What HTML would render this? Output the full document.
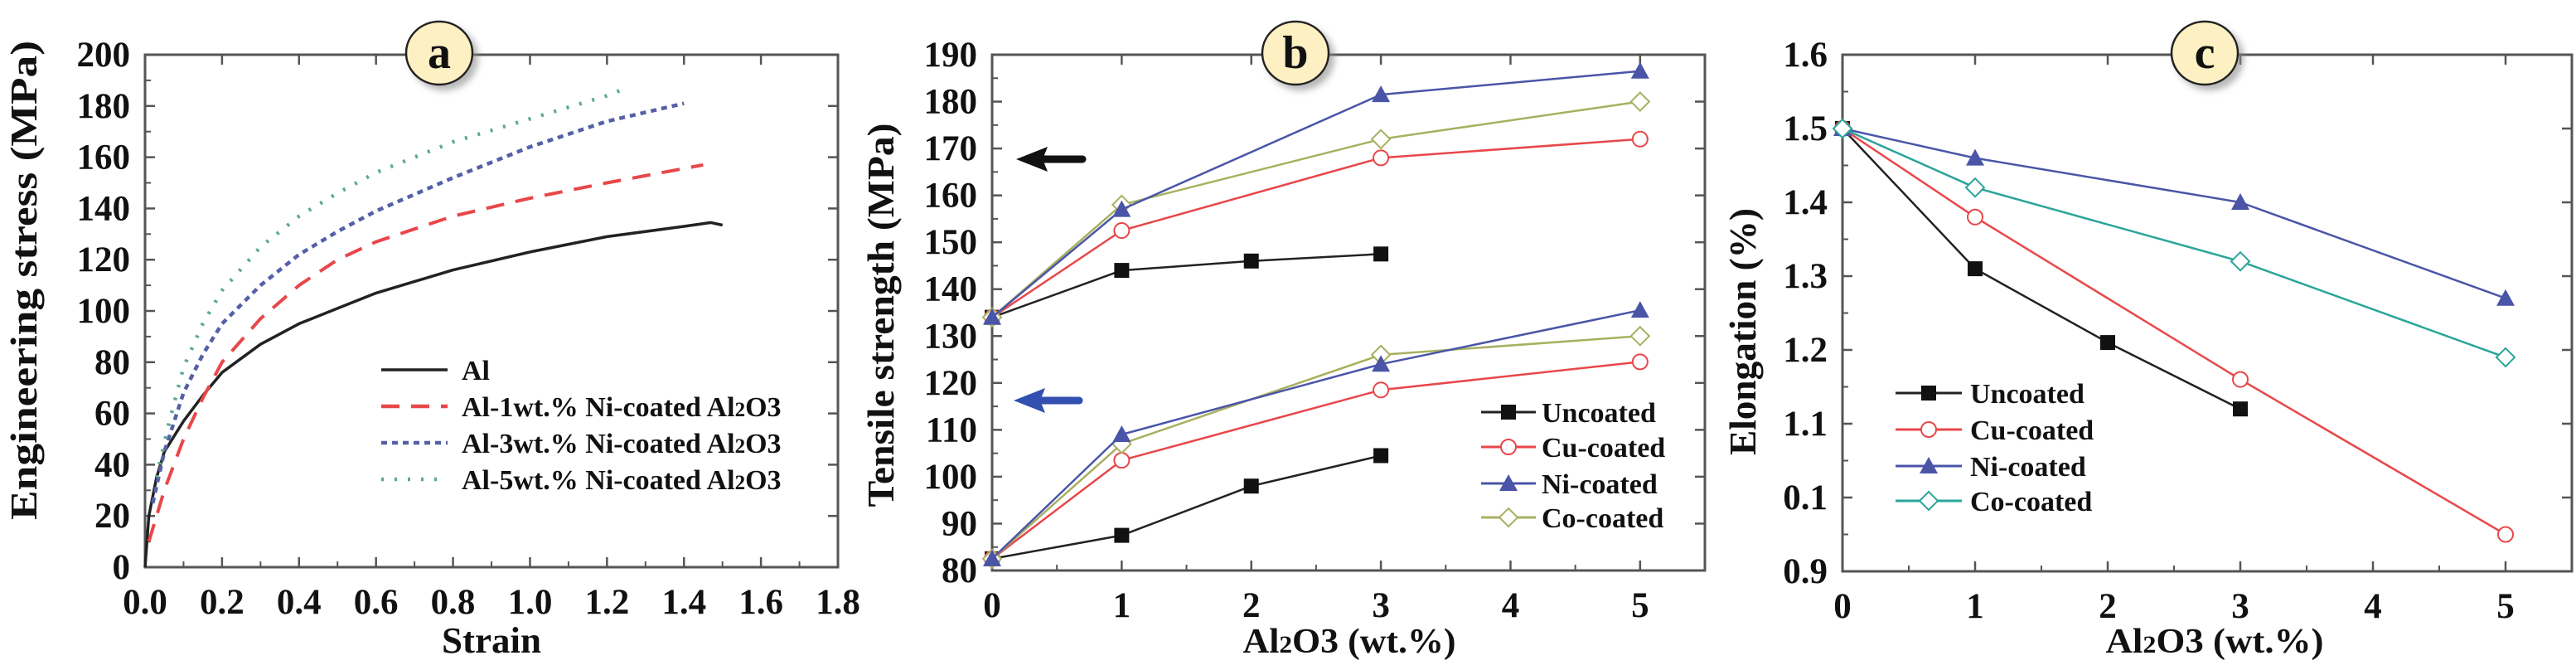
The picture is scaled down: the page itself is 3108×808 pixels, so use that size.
<!DOCTYPE html>
<html><head><meta charset="utf-8">
<style>
html,body{margin:0;padding:0;background:#fff;}
svg{display:block;font-family:"Liberation Serif",serif;font-weight:bold;}
</style></head>
<body>
<svg id="fig" width="3108" height="808" viewBox="0 0 3108 808" xmlns="http://www.w3.org/2000/svg">
<defs>
<filter id="sh" x="-30%" y="-30%" width="160%" height="160%"><feDropShadow dx="6" dy="6" stdDeviation="4" flood-color="#888" flood-opacity="0.6"/></filter>
</defs>
</svg>
<script>
// ---- Panel a data ----
const aSeriesNames = ["Al","Al-1wt.% Ni-coated Al2O3","Al-3wt.% Ni-coated Al2O3","Al-5wt.% Ni-coated Al2O3"];
const aAlStrain = [0,0.01,0.03,0.05,0.1,0.15,0.2,0.3,0.4,0.5,0.6,0.8,1.0,1.2,1.4,1.47,1.5];
const aAlStress = [0,20,35,45,57,67,76,87,95,101,107,116,123,129,133,134.5,133.5];
const aNi1Strain = [0.01,0.05,0.1,0.15,0.2,0.3,0.4,0.5,0.6,0.8,1.0,1.2,1.45];
const aNi1Stress = [10,30,50,66,80,97,110,120,127,137,144,150,157];
const aNi3Strain = [0.02,0.05,0.1,0.15,0.2,0.3,0.4,0.5,0.6,0.8,1.0,1.2,1.4];
const aNi3Stress = [25,45,68,83,95,110,122,131,139,152,164,174,181];
const aNi5Strain = [0.03,0.06,0.1,0.15,0.2,0.3,0.4,0.5,0.6,0.8,1.0,1.2,1.25];
const aNi5Stress = [35,55,78,95,108,125,137,146,154,166,175,184,187];
const aXTicks = ["0.0","0.2","0.4","0.6","0.8","1.0","1.2","1.4","1.6","1.8"];
const aYTicks = ["0","20","40","60","80","100","120","140","160","180","200"];
// ---- Panel b data ----
const bX4 = [0,1,2,3];
const bX = [0,1,3,5];
const bUncUpper = [134,144,146,147.5];
const bCuUpper = [134,152.5,168,172];
const bNiUpper = [134,157,181.5,186.5];
const bCoUpper = [134,158,172,180];
const bUncLower = [82.5,87.5,98,104.5];
const bCuLower = [82.5,103.5,118.5,124.5];
const bNiLower = [82.5,109,124,135.5];
const bCoLower = [82.5,107,126,130];
const bYTicks = ["80","90","100","110","120","130","140","150","160","170","180","190"];
const xTicksInt = ["0","1","2","3","4","5"];
// ---- Panel c data ----
const cX4 = [0,1,2,3];
const cX = [0,1,3,5];
const cUnc = [1.5,1.31,1.21,1.12];
const cCu = [1.5,1.38,1.16,0.95];
const cNi = [1.5,1.46,1.40,1.27];
const cCo = [1.5,1.42,1.32,1.19];
const cYTicks = ["0.9","0.1","1.1","1.2","1.3","1.4","1.5","1.6"];
const legendNames = ["Uncoated","Cu-coated","Ni-coated","Co-coated"];

const svg = document.getElementById('fig');
const NS = "http://www.w3.org/2000/svg";
const TF = 43;
function mk(tag, attrs, parent){const e=document.createElementNS(NS,tag);for(const k in attrs)e.setAttribute(k,attrs[k]);(parent||svg).appendChild(e);return e;}
function txt(s,x,y,size,anchor,parent){const t=mk('text',{x:x,y:y,'font-size':size,'text-anchor':anchor||'middle',fill:'#111'},parent);t.textContent=s;return t;}

function panel(name,L,R,T,B,xmin,xmax,ymin,ymax){
  const g=mk('g',{});
  
  
  return {g,L,R,T,B,sx:v=>L+(v-xmin)/(xmax-xmin)*(R-L),sy:v=>B-(v-ymin)/(ymax-ymin)*(B-T)};
}
function frame(p,xvals,xlabels,yvals,ylabels,xminor,yminor){
  const ax=mk('rect',{x:p.L,y:p.T,width:p.R-p.L,height:p.B-p.T,fill:'none',stroke:'#555','stroke-width':3},p.g);
  
  
  xvals.forEach((v,i)=>{const x=p.sx(v);mk('line',{x1:x,x2:x,y1:p.B,y2:p.B-12,stroke:'#555','stroke-width':2.5},p.g);mk('line',{x1:x,x2:x,y1:p.T,y2:p.T+12,stroke:'#555','stroke-width':2.5},p.g);
    const t=txt(xlabels[i],x,p.B+56,TF,'middle',p.g);});
  xminor.forEach(v=>{const x=p.sx(v);mk('line',{x1:x,x2:x,y1:p.B,y2:p.B-7,stroke:'#555','stroke-width':2},p.g);});
  yvals.forEach((v,i)=>{const y=p.sy(v);mk('line',{x1:p.L,x2:p.L+12,y1:y,y2:y,stroke:'#555','stroke-width':2.5},p.g);mk('line',{x1:p.R,x2:p.R-12,y1:y,y2:y,stroke:'#555','stroke-width':2.5},p.g);
    const t=txt(ylabels[i],p.L-18,y+14,TF,'end',p.g);});
  yminor.forEach(v=>{const y=p.sy(v);mk('line',{x1:p.L,x2:p.L+7,y1:y,y2:y,stroke:'#555','stroke-width':2},p.g);});
}
function badge(letter,cx,cy){
  const e=mk('ellipse',{cx:cx,cy:cy,rx:40,ry:38,fill:'#fdf0c2',stroke:'#222','stroke-width':2.5,filter:'url(#sh)'});
  
  
  const t=txt(letter,cx,cy+18,56,'middle');
  
  
}
function poly(p,xs,ys,color,w,dash,name){
  const d=xs.map((x,i)=>(i?'L':'M')+p.sx(x).toFixed(1)+','+p.sy(ys[i]).toFixed(1)).join(' ');
  const a={d:d,fill:'none',stroke:color,'stroke-width':w,'stroke-linejoin':'round'};
  if(dash)a['stroke-dasharray']=dash;
  const e=mk('path',a,p.g);
  
  
}
function marker(g,type,x,y,color){
  let e;
  if(type==='sq')e=mk('rect',{x:x-9,y:y-9,width:18,height:18,fill:'#111'},g);
  else if(type==='ci')e=mk('circle',{cx:x,cy:y,r:9,fill:'#fff',stroke:color,'stroke-width':2},g);
  else if(type==='tr')e=mk('polygon',{points:`${x},${y-11} ${x+11},${y+9} ${x-11},${y+9}`,fill:color},g);
  else e=mk('polygon',{points:`${x},${y-11} ${x+11},${y} ${x},${y+11} ${x-11},${y}`,fill:'#fff',stroke:color,'stroke-width':2},g);
  
  
}
function series(p,xs,ys,color,type,name){
  poly(p,xs,ys,color,2.5,null,name);
  xs.forEach((x,i)=>marker(p.g,type,p.sx(x),p.sy(ys[i]),color));
}
function legendRow(g,x1,x2,tx,y,color,type,label,dash,w){
  const a={x1:x1,x2:x2,y1:y,y2:y,stroke:color,'stroke-width':w||3};
  if(dash)a['stroke-dasharray']=dash;
  const l=mk('line',a,g);
  
  
  if(type)marker(g,type,(x1+x2)/2,y,color);
  const t=txt(label,tx,y+12,34,'start',g);
  
  
}
function richLegend(g,tx,y,label){
  const t=mk('text',{x:tx,y:y+12,'font-size':34,fill:'#111'},g);
  
  
  const parts=label.split('Al2O3');
  t.appendChild(document.createTextNode(parts[0]+'Al'));
  const s=document.createElementNS(NS,'tspan');s.setAttribute('font-size',25);s.textContent='2';t.appendChild(s);
  t.appendChild(document.createTextNode('O3'));
}
function xTitle(cx,y,len,parent){
  const t=mk('text',{x:cx,y:y,'font-size':42,'text-anchor':'middle',fill:'#111',textLength:len,lengthAdjust:'spacingAndGlyphs'},parent);
  
  
  t.appendChild(document.createTextNode('Al'));
  const s=document.createElementNS(NS,'tspan');s.setAttribute('font-size',30);s.textContent='2';t.appendChild(s);
  t.appendChild(document.createTextNode('O3 (wt.%)'));
}
function yTitle(x,y,s,len){
  const t=mk('text',{x:0,y:0,'font-size':46,'text-anchor':'middle',fill:'#111',textLength:len,lengthAdjust:'spacingAndGlyphs',transform:`translate(${x},${y}) rotate(-90)`});
  t.textContent=s;
  
  
}
function range(a,b,s){const r=[];for(let v=a;v<=b+1e-9;v+=s)r.push(+v.toFixed(4));return r;}

// ===== Panel a =====
const pa=panel('panel-a-stress-strain',175,1011,66,684,0,1.8,0,200);
frame(pa,[0,0.2,0.4,0.6,0.8,1.0,1.2,1.4,1.6,1.8],aXTicks,range(0,200,20),aYTicks,range(0.1,1.7,0.2),range(10,190,20));
poly(pa,aAlStrain,aAlStress,'#222',3.5,null,'line-al');
poly(pa,aNi1Strain,aNi1Stress,'#e8474a',4,'22 14','line-al-1wt');
poly(pa,aNi3Strain,aNi3Stress,'#5560a8',4.5,'7 6','line-al-3wt');
poly(pa,aNi5Strain,aNi5Stress,'#5aa894',4.5,'3 13','line-al-5wt');
const la=mk('g',{},pa.g);


legendRow(la,460,540,557,446,'#222',null,aSeriesNames[0],null,3.5);
const lc=['#e8474a','#5560a8','#5aa894'],ld=['22 14','7 6','3 13'];
for(let i=1;i<4;i++){
  const l=mk('line',{x1:460,x2:540,y1:446+44*i,y2:446+44*i,stroke:lc[i-1],'stroke-width':4.5,'stroke-dasharray':ld[i-1]},la);
  
  
  richLegend(la,557,446+44*i,aSeriesNames[i]);
}
const xa=mk('text',{x:593,y:787,'font-size':44,'text-anchor':'middle',fill:'#111',textLength:120,lengthAdjust:'spacingAndGlyphs'},pa.g);
xa.textContent='Strain';


yTitle(44,338,'Engineering stress (MPa)',578);
badge('a',530,64);

// ===== Panel b =====
const pb=panel('panel-b-tensile-strength',1197,2057,66,688,0,5.5,80,190);
frame(pb,[0,1,2,3,4,5],xTicksInt,range(80,190,10),bYTicks,range(0.5,5.5,1),range(85,185,10));
const C={unc:'#222',cu:'#e8474a',ni:'#4a55a8',coB:'#a8b060',coC:'#2aa59a'};
series(pb,bX4,bUncUpper,C.unc,'sq','upper-uncoated');
series(pb,bX,bCuUpper,C.cu,'ci','upper-cu-coated');
series(pb,bX,bCoUpper,C.coB,'di','upper-co-coated');
series(pb,bX,bNiUpper,C.ni,'tr','upper-ni-coated');
series(pb,bX4,bUncLower,C.unc,'sq','lower-uncoated');
series(pb,bX,bCuLower,C.cu,'ci','lower-cu-coated');
series(pb,bX,bCoLower,C.coB,'di','lower-co-coated');
series(pb,bX,bNiLower,C.ni,'tr','lower-ni-coated');
function arrow(x1,x2,y,color,name){
  const g=mk('g',{},pb.g);
  
  
  mk('line',{x1:x1+30,x2:x2,y1:y,y2:y,stroke:color,'stroke-width':9,'stroke-linecap':'round'},g);
  mk('polygon',{points:`${x1},${y} ${x1+38},${y-15} ${x1+32},${y} ${x1+38},${y+15}`,fill:color},g);
}
arrow(1226,1306,192,'#111','arrow-upper-black');
arrow(1223,1302,483,'#3350b0','arrow-lower-blue');
const lb=mk('g',{},pb.g);


const bCols=[C.unc,C.cu,C.ni,C.coB],types=['sq','ci','tr','di'];
[497,539,583,624].forEach((y,i)=>legendRow(lb,1787,1853,1860,y,bCols[i],types[i],legendNames[i],null,3));
xTitle(1628,787,257,pb.g);
yTitle(1078,380,'Tensile strength (MPa)',463);
badge('b',1563,64);

// ===== Panel c =====
const pc=panel('panel-c-elongation',2223,3103,66,689,0,5.5,0.9,1.6);
frame(pc,[0,1,2,3,4,5],xTicksInt,range(0.9,1.6,0.1),cYTicks,range(0.5,5.5,1),range(0.95,1.55,0.1));
series(pc,cX4,cUnc,C.unc,'sq','c-uncoated');
series(pc,cX,cCu,C.cu,'ci','c-cu-coated');
series(pc,cX,cNi,C.ni,'tr','c-ni-coated');
series(pc,cX,cCo,C.coC,'di','c-co-coated');
const lgc=mk('g',{},pc.g);


const cCols=[C.unc,C.cu,C.ni,C.coC];
[474,518,562,604].forEach((y,i)=>legendRow(lgc,2287,2367,2377,y,cCols[i],types[i],legendNames[i],null,3));
xTitle(2672,787,263,pc.g);
yTitle(2118,400,'Elongation (%)',298);
badge('c',2660,64);
</script>
</body></html>
